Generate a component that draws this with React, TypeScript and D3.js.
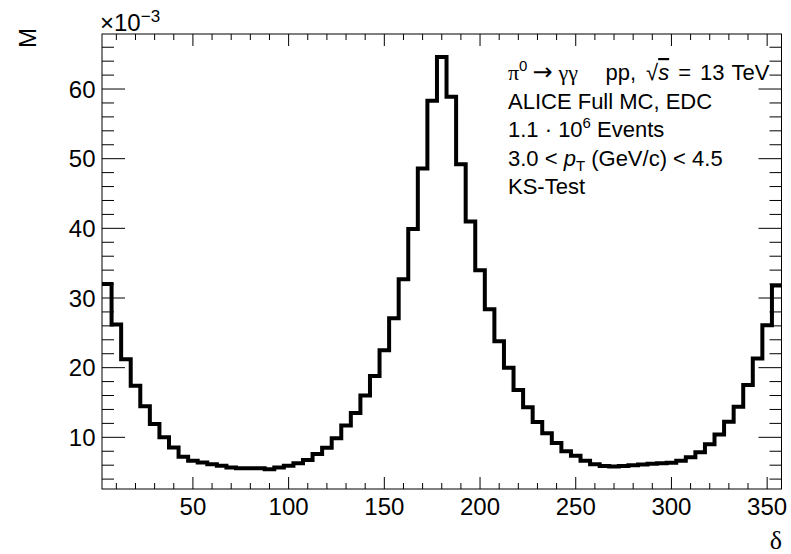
import React from "react";
import * as d3 from "d3";

// bin centres of the delta histogram (degrees)
const binCenters = [
  5, 10, 15, 20, 25, 30, 35, 40, 45, 50, 55, 60, 65, 70, 75, 80, 85, 90, 95, 100,
  105, 110, 115, 120, 125, 130, 135, 140, 145, 150, 155, 160, 165, 170, 175, 180,
  185, 190, 195, 200, 205, 210, 215, 220, 225, 230, 235, 240, 245, 250, 255, 260,
  265, 270, 275, 280, 285, 290, 295, 300, 305, 310, 315, 320, 325, 330, 335, 340,
  345, 350, 355,
];
// M values in units of 1e-3
const mValues = [
  32.0, 26.2, 21.2, 17.4, 14.45, 11.9, 10.0, 8.55, 7.2, 6.65, 6.4, 6.15, 5.9, 5.65,
  5.55, 5.55, 5.55, 5.4, 5.65, 5.9, 6.27, 6.75, 7.6, 8.5, 9.85, 11.7, 13.5, 16.0,
  18.8, 22.5, 27.1, 32.7, 39.9, 48.6, 58.3, 64.6, 58.9, 49.2, 41.0, 34.0, 28.4,
  23.8, 20.0, 16.8, 14.3, 12.2, 10.6, 9.2, 8.0, 7.37, 6.65, 6.12, 5.88, 5.8, 5.88,
  5.98, 6.1, 6.2, 6.27, 6.36, 6.65, 7.13, 7.85, 9.0, 10.4, 12.25, 14.4, 17.5, 21.3,
  26.1, 31.8,
];
const xMajorTicks = [50, 100, 150, 200, 250, 300, 350];
const yMajorTicks = [10, 20, 30, 40, 50, 60];
const xDomain = [2.5, 357.5];
const yDomain = [2.58, 67.9];

const W = 791;
const H = 554;
const L = 102;
const R = 781.5;
const T = 34;
const B = 489;
const FONT = "'Liberation Sans', Arial, Helvetica, sans-serif";
const SERIF = "'Liberation Serif', 'DejaVu Serif', serif";

export default function App() {
  const x = d3.scaleLinear().domain(xDomain).range([L, R]);
  const y = d3.scaleLinear().domain(yDomain).range([B, T]);

  const half = (binCenters[1] - binCenters[0]) / 2;
  const pts: [number, number][] = binCenters.map((c, i) => [c - half, mValues[i]]);
  pts.push([binCenters[binCenters.length - 1] + half, mValues[mValues.length - 1]]);
  const path = d3
    .line<[number, number]>()
    .x((d) => x(d[0]))
    .y((d) => y(d[1]))
    .curve(d3.curveStepAfter)(pts) as string;

  const xMinor = d3.range(10, 360, 10).filter((v) => v % 50 !== 0);
  const yMinor = d3.range(4, 67, 2).filter((v) => v % 10 !== 0);

  const tx = 508;
  const lh = 28.5;
  const y0 = 80;

  return (
    <svg
      width={W}
      height={H}
      style={{ position: "absolute", left: 0, top: 0, background: "#fff" }}
      fontFamily={FONT}
    >
      <rect x={0} y={0} width={W} height={H} fill="#fff" />
      {/* ticks */}
      <g stroke="#000" strokeWidth={1}>
        {xMajorTicks.map((v) => (
          <g key={"xM" + v}>
            <line x1={x(v)} x2={x(v)} y1={B} y2={B - 12} />
            <line x1={x(v)} x2={x(v)} y1={T} y2={T + 12} />
          </g>
        ))}
        {xMinor.map((v) => (
          <g key={"xm" + v}>
            <line x1={x(v)} x2={x(v)} y1={B} y2={B - 6} />
            <line x1={x(v)} x2={x(v)} y1={T} y2={T + 6} />
          </g>
        ))}
        {yMajorTicks.map((v) => (
          <g key={"yM" + v}>
            <line x1={L} x2={L + 23} y1={y(v)} y2={y(v)} />
            <line x1={R} x2={R - 23} y1={y(v)} y2={y(v)} />
          </g>
        ))}
        {yMinor.map((v) => (
          <g key={"ym" + v}>
            <line x1={L} x2={L + 12} y1={y(v)} y2={y(v)} />
            <line x1={R} x2={R - 12} y1={y(v)} y2={y(v)} />
          </g>
        ))}
      </g>
      <rect x={L} y={T} width={R - L} height={B - T} fill="none" stroke="#000" strokeWidth={1} />

      {/* histogram */}
      <path d={path} fill="none" stroke="#000" strokeWidth={4} strokeLinejoin="miter" strokeLinecap="butt" />

      {/* tick labels */}
      <g fontSize={24} fill="#000">
        {xMajorTicks.map((v) => (
          <text key={"xl" + v} x={x(v)} y={515} textAnchor="middle">
            {v}
          </text>
        ))}
        {yMajorTicks.map((v) => (
          <text key={"yl" + v} x={95.5} y={y(v) + 8.5} textAnchor="end">
            {v}
          </text>
        ))}
      </g>

      {/* exponent */}
      <text x={L - 2} y={31} fontSize={24}>
        ×10
        <tspan fontSize={17} dy={-9}>−3</tspan>
      </text>

      {/* axis titles */}
      <text x={782} y={549} fontSize={26} textAnchor="end" fontFamily={SERIF}>
        δ
      </text>
      <text transform="translate(36,28) rotate(-90)" fontSize={24} textAnchor="end">
        M
      </text>

      {/* info block */}
      <g fontSize={22} fill="#000">
        <text x={tx} y={y0}>
          <tspan fontFamily={SERIF}>π</tspan>
          <tspan fontSize={15} dy={-9}>0</tspan>
          <tspan dy={9} dx={5} fontSize={24} fontFamily="'DejaVu Sans', sans-serif">→</tspan>
          <tspan dx={6} fontFamily={SERIF}>γγ</tspan>
          <tspan dx={3}>{"\u00a0\u00a0\u00a0\u00a0pp,"}</tspan>
          <tspan dx={10}>√</tspan>
          <tspan fontStyle="italic" textDecoration="overline">s</tspan>
          <tspan dx={9}>=</tspan>
          <tspan dx={9}>13</tspan>
          <tspan dx={7}>TeV</tspan>
        </text>
        <text x={tx} y={y0 + lh}>ALICE Full MC, EDC</text>
        <text x={tx} y={y0 + 2 * lh}>
          1.1 · 10
          <tspan fontSize={15} dy={-9}>6</tspan>
          <tspan dy={9}> Events</tspan>
        </text>
        <text x={tx} y={y0 + 3 * lh}>
          3.0 &lt; <tspan fontStyle="italic">p</tspan>
          <tspan fontSize={15} dy={5}>T</tspan>
          <tspan dy={-5}> (GeV/c) &lt; 4.5</tspan>
        </text>
        <text x={tx} y={y0 + 4 * lh}>KS-Test</text>
      </g>
    </svg>
  );
}
